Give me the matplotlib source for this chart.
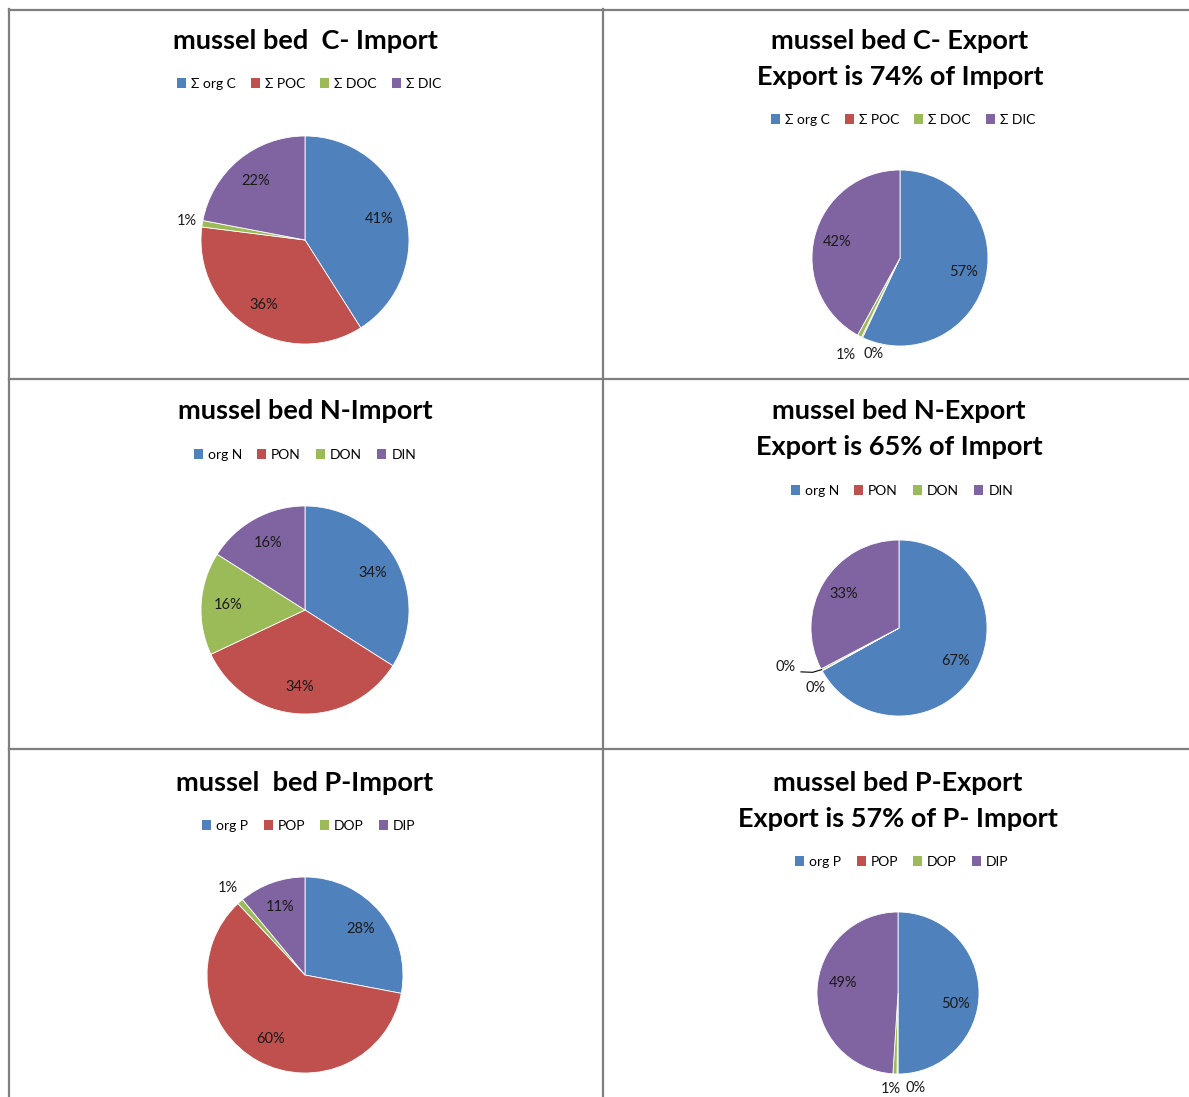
import matplotlib
matplotlib.use("Agg")
import matplotlib.pyplot as plt
from matplotlib.patches import Patch
from matplotlib.lines import Line2D
import numpy as np

# ---------------- data ----------------
c_labels = ["\u03a3 org C", "\u03a3 POC", "\u03a3 DOC", "\u03a3 DIC"]
n_labels = ["org N", "PON", "DON", "DIN"]
p_labels = ["org P", "POP", "DOP", "DIP"]

c_import = [41, 36, 1, 22]
c_export = [57, 0.2, 0.8, 42]
n_import = [34, 34, 16, 16]
n_export = [66.9, 0.1, 0.3, 32.7]
p_import = [28, 60, 1, 11]
p_export = [50, 0.2, 0.8, 49]

titles = [
    "mussel bed  C- Import",
    "mussel bed C- Export\nExport is 74% of Import",
    "mussel bed N-Import",
    "mussel bed N-Export\nExport is 65% of Import",
    "mussel  bed P-Import",
    "mussel bed P-Export\nExport is 57% of P- Import",
]

# ---------------- style / layout ----------------
W, H = 1189, 1097
colors = ["#4F81BD", "#C0504D", "#9BBB59", "#8064A2"]
FONT = "Lato"

fig = plt.figure(figsize=(W / 100, H / 100), dpi=100)
fig.patch.set_facecolor("white")

def fx(px):
    return px / W

def fy(py):
    return 1 - py / H

# grid lines
line_kw = dict(color="#7f7f7f", lw=1.6, transform=fig.transFigure)
fig.add_artist(Line2D([fx(9), fx(9)], [fy(9), fy(1097)], **line_kw))
fig.add_artist(Line2D([fx(9), fx(1189)], [fy(9.5), fy(9.5)], **line_kw))
fig.add_artist(Line2D([fx(603), fx(603)], [fy(9), fy(1097)], **line_kw))
fig.add_artist(Line2D([fx(9), fx(1189)], [fy(379), fy(379)], **line_kw))
fig.add_artist(Line2D([fx(9), fx(1189)], [fy(749), fy(749)], **line_kw))

# label overrides: wedge index -> (distance in radii, angle shift in degrees, ccw)
panels = [
    dict(vals=c_import, leg=c_labels, title_y=41, tx=305, leg_xy=(309, 84), c=(305, 240), r=104,
         over={2: (1.15, 0)}),
    dict(vals=c_export, leg=c_labels, title_y=59, tx=900, leg_xy=(903, 120), c=(900, 258), r=88,
         over={1: (1.13, 10), 2: (1.26, -2)}),
    dict(vals=n_import, leg=n_labels, title_y=411, tx=305, leg_xy=(305, 455), c=(305, 610), r=104,
         over={}),
    dict(vals=n_export, leg=n_labels, title_y=429, tx=899, leg_xy=(902, 491), c=(899, 628), r=88,
         over={1: (1.17, 6.5), 2: (1.36, -9)}),
    dict(vals=p_import, leg=p_labels, title_y=783, tx=305, leg_xy=(309, 826), c=(305, 975), r=98,
         over={2: (1.19, 0)}),
    dict(vals=p_export, leg=p_labels, title_y=801, tx=898, leg_xy=(902, 862), c=(898, 993), r=81,
         over={0: (0.72, -11), 1: (1.19, 11), 2: (1.19, -2), 3: (0.69, -8.5)}),
]

for i, (p, title) in enumerate(zip(panels, titles)):
    cx, cy = p["c"]
    R = p["r"]
    ext = 1.6
    ax = fig.add_axes([fx(cx - ext * R), fy(cy + ext * R), ext * 2 * R / W, ext * 2 * R / H])
    wedges, _ = ax.pie(p["vals"], colors=colors, startangle=90, counterclock=False,
                       radius=1.0, wedgeprops=dict(edgecolor="white", linewidth=0.6))
    ax.set_xlim(-ext, ext)
    ax.set_ylim(-ext, ext)
    ax.set_aspect("equal")
    ax.axis("off")
    total = sum(p["vals"])
    for k, (w, v) in enumerate(zip(wedges, p["vals"])):
        mid = (w.theta1 + w.theta2) / 2.0
        dist = 0.74
        if k in p["over"]:
            dist, shift = p["over"][k]
            mid = mid + shift
        x = dist * np.cos(np.deg2rad(mid))
        y = dist * np.sin(np.deg2rad(mid))
        ax.text(x, y, f"{round(v / total * 100):.0f}%", ha="center", va="center",
                fontsize=10.5, family=FONT, color="#1a1a1a")
        # leader line for the N-export DON label
        if i == 3 and k == 2:
            wm = np.deg2rad((w.theta1 + w.theta2) / 2.0)
            ex, ey = np.cos(wm), np.sin(wm)
            ax.plot([ex, ex - 0.1, x + 0.17], [ey, ey - 0.03, y - 0.05],
                    color="black", lw=0.8)

    fig.text(fx(p["tx"]), fy(p["title_y"]), title, ha="center", va="center",
             fontsize=19.5, fontweight="bold", family=FONT, linespacing=1.58)
    handles = [Patch(facecolor=c, edgecolor="none") for c in colors]
    fig.legend(handles, p["leg"], loc="center", ncol=4,
               bbox_to_anchor=(fx(p["leg_xy"][0]), fy(p["leg_xy"][1])),
               frameon=False, prop=dict(family=FONT, size=10),
               handlelength=0.65, handleheight=0.65, handletextpad=0.35,
               columnspacing=1.1, borderaxespad=0)

fig.savefig("out.png", dpi=100)
